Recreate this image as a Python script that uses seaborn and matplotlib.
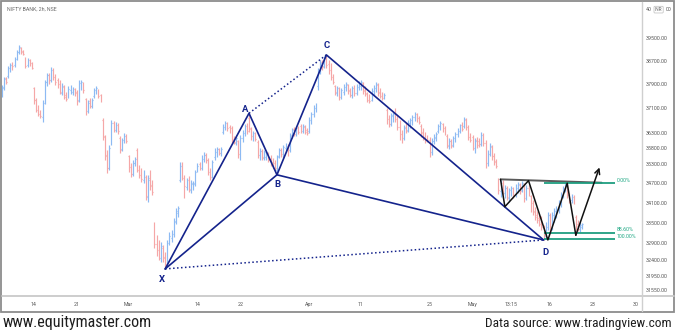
import numpy as np
import pandas as pd
import matplotlib
matplotlib.use("Agg")
import matplotlib.pyplot as plt
import seaborn as sns
from matplotlib import font_manager
from matplotlib.ticker import FixedLocator, NullLocator, FixedFormatter
from matplotlib.patches import Rectangle

# ---------------- data ----------------
trading_days = [
    "2022-02-08", "2022-02-09", "2022-02-10", "2022-02-11", "2022-02-14", "2022-02-15", "2022-02-16",
    "2022-02-17", "2022-02-18", "2022-02-21", "2022-02-22", "2022-02-23", "2022-02-24", "2022-02-25",
    "2022-02-28", "2022-03-02", "2022-03-03", "2022-03-04", "2022-03-07", "2022-03-08", "2022-03-09",
    "2022-03-10", "2022-03-11", "2022-03-14", "2022-03-15", "2022-03-16", "2022-03-17", "2022-03-21",
    "2022-03-22", "2022-03-23", "2022-03-24", "2022-03-25", "2022-03-28", "2022-03-29", "2022-03-30",
    "2022-03-31", "2022-04-01", "2022-04-04", "2022-04-05", "2022-04-06", "2022-04-07", "2022-04-08",
    "2022-04-11", "2022-04-12", "2022-04-13", "2022-04-18", "2022-04-19", "2022-04-20", "2022-04-21",
    "2022-04-22", "2022-04-25", "2022-04-26", "2022-04-27", "2022-04-28", "2022-04-29", "2022-05-02",
    "2022-05-04", "2022-05-05", "2022-05-06", "2022-05-09", "2022-05-10", "2022-05-11", "2022-05-12",
    "2022-05-13", "2022-05-16", "2022-05-17", "2022-05-18", "2022-05-19",
]
future_days = ["2022-05-20", "2022-05-23", "2022-05-24", "2022-05-25", "2022-05-26", "2022-05-27",
               "2022-05-30", "2022-05-31"]
sessions = ["09:15", "11:15", "13:15", "15:15"]
first_bar = "2022-02-08 11:15"

opens = [
    37540, 37770, 38110,
    38180, 38410, 38590, 38550,  38760, 39000, 39140, 39040,  38790, 38550, 38720, 38620,
    37770, 37370, 37070, 36970,  36810, 37270, 37970, 38210,  38040, 38380, 38140, 38040,
    37910, 37600, 37800, 37540,  37470, 37700, 37640, 37740,  37640, 37370, 37870, 37940,
    37400, 37000, 37340, 37170,  37500, 37670, 37700, 37540,  36710, 36160, 35580, 35170,
    35970, 36610, 36380, 36550,  36130, 35770, 36060, 36190,  35550, 35200, 34990, 35330,
    35740, 35140, 35020, 34800,  34890, 34280, 34860, 34650,  33460, 32870, 32700, 32470,
    32760, 32490, 32290, 32900,  33050, 33170, 33520, 33790,  34800, 35270, 34860, 34580,
    34800, 34490, 34680, 34680,  35080, 35300, 35170, 35460,  35580, 35420, 35050, 34920,
    35520, 35680, 35770, 35650,  36320, 36480, 36610, 36480,  36450, 36090, 35970, 36030,
    35550, 36130, 36290, 36510,  36780, 36420, 36160, 36250,  36000, 35580, 35710, 35490,
    35520, 35610, 35460, 35360,  35330, 35110, 35550, 35740,  35580, 35810, 35870, 35740,
    36190, 36420, 36250, 36450,  36510, 36350, 36480, 36380,  36350, 36710, 36910, 37100,
    37840, 38310, 38660, 38520,  38790, 38590, 38380, 38140,  37840, 37600, 37740, 37470,
    37640, 37800, 37870, 37700,  37540, 37770, 37600, 37800,  37840, 37940, 37700, 37600,
    37500, 37370, 37670, 37770,  37870, 37640, 37570, 37440,  37040, 36740, 36580, 36840,
    36940, 36780, 36480, 36250,  36130, 36480, 36380, 36610,  36680, 36810, 36910, 36780,
    36510, 36320, 36190, 36160,  36060, 35680, 36030, 36130,  36350, 36510, 36580, 36450,
    36190, 35870, 36030, 35900,  36090, 36250, 36350, 36550,  36510, 36710, 36480, 36190,
    36160, 35810, 36060, 36030,  35930, 36220, 35970, 35330,  35610, 35840, 35550, 35390,
    34800, 34460, 34710, 34400,  34550, 34250, 34460, 34550,  34340, 34550, 34650, 34490,
    34680, 34280, 34550, 34310,  34090, 33850, 33730, 33640,  33610, 33340, 33110, 33370,
    33730, 33340, 33700, 33820,  33880, 34060, 34310, 34520,  34650, 34340, 34190, 34280,
    33670, 33460, 33310, 33370,
]
highs = [
    37870, 38140, 38140,
    38520, 38620, 38660, 38830,  39070, 39250, 39180, 39070,  38830, 38790, 38760, 38660,
    37800, 37440, 37200, 37040,  37370, 38040, 38280, 38280,  38480, 38450, 38240, 38110,
    38040, 37940, 37870, 37640,  37840, 37870, 37800, 37770,  37700, 38040, 38040, 37970,
    37440, 37370, 37440, 37440,  37770, 37840, 37740, 37570,  36780, 36220, 35740, 35900,
    36710, 36680, 36640, 36610,  36190, 36130, 36290, 36250,  35580, 35330, 35420, 35520,
    35810, 35270, 35170, 35110,  34960, 34960, 35110, 34800,  33520, 33140, 32990, 32930,
    32840, 32640, 32990, 33230,  33280, 33640, 33940, 34000,  35360, 35360, 34960, 34860,
    34920, 34800, 34770, 35110,  35330, 35360, 35580, 35680,  35650, 35490, 35170, 35420,
    35810, 35840, 35810, 35840,  36580, 36680, 36640, 36550,  36510, 36190, 36220, 36060,
    36220, 36380, 36580, 36610,  36910, 36480, 36350, 36320,  36060, 35810, 35770, 35740,
    35710, 35680, 35580, 35490,  35420, 35580, 35810, 35810,  35900, 35970, 35930, 36290,
    36450, 36480, 36510, 36510,  36580, 36580, 36550, 36450,  36810, 36970, 37200, 37270,
    38450, 38720, 38720, 38860,  38900, 38720, 38620, 38240,  37870, 37840, 37800, 37770,
    37910, 37970, 37910, 37770,  37840, 37870, 37910, 38010,  38040, 37970, 37840, 37640,
    37570, 37770, 37870, 37970,  37940, 37770, 37640, 37600,  37100, 36870, 36940, 36970,
    37100, 36870, 36710, 36380,  36550, 36640, 36710, 36780,  36870, 36970, 36940, 36840,
    36580, 36450, 36320, 36220,  36160, 36130, 36250, 36320,  36580, 36680, 36610, 36510,
    36250, 36130, 36090, 36190,  36320, 36450, 36580, 36640,  36810, 36780, 36550, 36290,
    36220, 36130, 36160, 36130,  36320, 36290, 36060, 35740,  35970, 35900, 35650, 35460,
    34860, 34800, 34800, 34650,  34610, 34550, 34610, 34580,  34680, 34740, 34710, 34770,
    34710, 34650, 34650, 34340,  34190, 33970, 33850, 33760,  33700, 33430, 33520, 33820,
    33790, 33820, 33940, 34000,  34190, 34430, 34610, 34740,  34680, 34400, 34370, 34340,
    33730, 33580, 33520, 33490,
]
lows = [
    37470, 37700, 37910,
    38110, 38310, 38380, 38480,  38720, 38930, 38930, 38900,  38450, 38480, 38520, 38410,
    37240, 36970, 36840, 36780,  36640, 37240, 37840, 37910,  37970, 38040, 37870, 37770,
    37570, 37540, 37400, 37340,  37440, 37570, 37540, 37500,  37200, 37300, 37700, 37600,
    36870, 36940, 37100, 37100,  37440, 37570, 37440, 37300,  36060, 35420, 35020, 35110,
    35900, 36320, 36320, 36250,  35650, 35710, 35970, 35970,  35050, 34890, 34920, 35240,
    35050, 34860, 34740, 34710,  34190, 34130, 34490, 34340,  32760, 32520, 32410, 32350,
    32350, 32150, 32230, 32840,  32930, 33080, 33460, 33670,  34740, 34800, 34250, 34490,
    34430, 34400, 34490, 34610,  35050, 35110, 35110, 35360,  35330, 34960, 34800, 34860,
    35420, 35520, 35580, 35550,  36250, 36380, 36350, 36290,  35970, 35930, 35900, 35490,
    35420, 36000, 36190, 36250,  36320, 36060, 36030, 36030,  35490, 35420, 35420, 35420,
    35420, 35360, 35240, 35170,  35110, 34990, 35490, 35520,  35490, 35680, 35550, 35680,
    36130, 36190, 36190, 36250,  36290, 36290, 36250, 36220,  36290, 36580, 36810, 36970,
    37700, 38240, 38380, 38450,  38450, 38240, 38040, 37910,  37540, 37500, 37370, 37400,
    37540, 37670, 37570, 37470,  37440, 37500, 37540, 37700,  37700, 37570, 37500, 37300,
    37270, 37340, 37540, 37640,  37500, 37440, 37370, 37400,  36580, 36480, 36510, 36640,
    36640, 36380, 36060, 35970,  36060, 36290, 36320, 36450,  36550, 36680, 36640, 36580,
    36160, 36060, 35970, 36000,  35520, 35580, 35930, 36030,  36290, 36380, 36320, 36220,
    35810, 35770, 35810, 35840,  36000, 36160, 36290, 36350,  36450, 36380, 36060, 36000,
    35740, 35650, 35810, 35840,  35870, 35870, 35170, 35240,  35550, 35420, 35270, 35170,
    34370, 34280, 34340, 34250,  34190, 34130, 34310, 34250,  34280, 34400, 34370, 34430,
    34130, 34190, 34310, 33820,  33730, 33580, 33490, 33400,  33280, 32990, 33050, 33280,
    33200, 33280, 33520, 33640,  33790, 33970, 34250, 34430,  34250, 34090, 34090, 34060,
    33280, 33250, 33230, 33310,
]
closes = [
    37800, 38070, 37970,
    38450, 38550, 38520, 38760,  39000, 39180, 39000, 38930,  38520, 38720, 38590, 38450,
    37370, 37040, 36910, 36840,  37270, 37970, 38210, 38040,  38380, 38140, 37970, 37840,
    37640, 37840, 37470, 37400,  37740, 37800, 37740, 37600,  37340, 37940, 37970, 37700,
    36970, 37270, 37170, 37370,  37700, 37770, 37500, 37340,  36190, 35550, 35170, 35810,
    36610, 36420, 36550, 36350,  35740, 36060, 36190, 36030,  35170, 34990, 35330, 35460,
    35110, 34960, 34830, 35020,  34310, 34800, 34610, 34430,  32870, 32640, 32490, 32810,
    32470, 32290, 32900, 33110,  33200, 33550, 33850, 33940,  35240, 34860, 34610, 34770,
    34520, 34710, 34710, 35050,  35240, 35170, 35490, 35580,  35420, 35050, 34890, 35360,
    35710, 35770, 35650, 35770,  36480, 36610, 36450, 36350,  36060, 36000, 36130, 35610,
    36130, 36320, 36480, 36350,  36450, 36190, 36290, 36090,  35610, 35710, 35520, 35680,
    35650, 35420, 35330, 35240,  35170, 35520, 35740, 35610,  35840, 35900, 35680, 36220,
    36380, 36250, 36450, 36320,  36350, 36510, 36320, 36290,  36710, 36910, 37140, 37240,
    38310, 38620, 38480, 38790,  38550, 38350, 38140, 37970,  37640, 37770, 37470, 37700,
    37840, 37910, 37670, 37540,  37770, 37600, 37840, 37940,  37970, 37670, 37570, 37370,
    37340, 37700, 37800, 37910,  37600, 37500, 37440, 37540,  36680, 36580, 36870, 36910,
    36740, 36480, 36190, 36060,  36450, 36350, 36610, 36710,  36810, 36910, 36740, 36640,
    36290, 36160, 36060, 36060,  35680, 36030, 36160, 36250,  36510, 36610, 36420, 36290,
    35900, 36030, 35870, 36130,  36250, 36380, 36510, 36420,  36740, 36480, 36160, 36060,
    35840, 36030, 35900, 35930,  36220, 35970, 35330, 35650,  35870, 35550, 35360, 35240,
    34490, 34710, 34430, 34550,  34280, 34490, 34550, 34340,  34580, 34680, 34460, 34710,
    34250, 34550, 34400, 33940,  33820, 33670, 33580, 33460,  33370, 33110, 33400, 33730,
    33340, 33730, 33850, 33910,  34090, 34340, 34550, 34680,  34340, 34190, 34310, 34130,
    33400, 33310, 33430, 33460,
]

# harmonic (XABCD) pattern
pattern_labels = ["X", "A", "B", "C", "D"]
pattern_times = ["2022-03-08 11:15", "2022-03-23 09:15", "2022-03-28 11:15",
                 "2022-04-05 09:15", "2022-05-13 11:15"]
pattern_prices = [32150, 36930, 34960, 38900, 32990]

# W (double bottom) sketch with breakout arrow
w_times = ["2022-05-06 11:15", "2022-05-06 15:15", "2022-05-11 13:15", "2022-05-13 15:15",
           "2022-05-18 09:15", "2022-05-19 09:15", "2022-05-23 15:15"]
w_prices = [34820, 33980, 34780, 32990, 34700, 33130, 35190]
neck_times = ["2022-05-06 11:15", "2022-05-24 09:15"]
neck_prices = [34820, 34715]

# Fibonacci retracement
fib_top = 34700
fib_bottom = 33010
fib_levels = [0.0, 0.886, 1.0]
fib_labels = ["0.00%", "88.60%", "100.00%"]
fib_start = "2022-05-13 11:15"
fib_end = "2022-05-25 13:15"

price_ticks = [40500, 39500, 38700, 37900, 37100, 36300, 35800, 35300, 34700,
               34100, 33500, 32900, 32400, 31950, 31550]
currency = "INR"
date_tick_times = ["2022-02-14 09:15", "2022-02-21 09:15", "2022-03-02 09:15", "2022-03-14 09:15",
                   "2022-03-22 09:15", "2022-04-01 09:15", "2022-04-11 09:15", "2022-04-25 09:15",
                   "2022-05-02 09:15", "2022-05-09 13:15", "2022-05-16 09:15", "2022-05-23 09:15",
                   "2022-05-30 09:15"]
date_tick_labels = ["14", "21", "Mar", "14", "22", "Apr", "11", "25", "May", "13:15", "16", "23", "30"]

# ---------------- helpers ----------------
calendar = trading_days + future_days


def tx(stamp):
    d, t = stamp.split()
    return calendar.index(d) + sessions.index(t) / 4.0


bar_stamps = [f"{d} {s}" for d in trading_days for s in sessions]
bar_stamps = bar_stamps[bar_stamps.index(first_bar):][:len(opens)]
bars = pd.DataFrame({"x": [tx(s) for s in bar_stamps], "open": opens, "high": highs,
                     "low": lows, "close": closes})
bars["up"] = bars["close"] >= bars["open"]

# ---------------- style ----------------
sns.set_theme(style="white")
avail = {f.name for f in font_manager.fontManager.ttflist}
small_font = "Roboto" if "Roboto" in avail else "DejaVu Sans"
narrow_font = next((f for f in ["Liberation Sans Narrow", "Roboto Condensed", "Roboto"] if f in avail),
                   "DejaVu Sans")
plt.rcParams["font.family"] = [small_font, "DejaVu Sans"]

W, H = 675, 334
fig = plt.figure(figsize=(W / 100, H / 100), dpi=100)
fig.patch.set_facecolor("white")

# pixel-space canvas for the screenshot frame and footer
ax0 = fig.add_axes([0, 0, 1, 1], zorder=0)
ax0.set_xlim(0, W)
ax0.set_ylim(H, 0)
ax0.axis("off")

L, R, T, B = 2, 641, 3, 295
ax = fig.add_axes([L / W, 1 - B / H, (R - L) / W, (B - T) / H], zorder=1)
ax.patch.set_alpha(0)

up_col, dn_col = "#8dbaf3", "#f5a7a7"
cols = np.where(bars["up"], up_col, dn_col)
tick = 0.09
ax.vlines(bars["x"], bars["low"], bars["high"], colors=cols, lw=0.85, zorder=2)
ax.hlines(bars["open"], bars["x"] - tick, bars["x"], colors=cols, lw=0.85, zorder=2)
ax.hlines(bars["close"], bars["x"], bars["x"] + tick, colors=cols, lw=0.85, zorder=2)

navy = "#14238c"
pts = pd.DataFrame({"label": pattern_labels, "x": [tx(t) for t in pattern_times], "price": pattern_prices})
P = pts.set_index("label")


def seg(names, **kw):
    sub = P.loc[names].reset_index()
    sns.lineplot(data=sub, x="x", y="price", sort=False, estimator=None, ax=ax, legend=False, **kw)


seg(["X", "A", "B", "C", "D"], color=navy, lw=1.2, zorder=4)
seg(["X", "B", "D"], color=navy, lw=1.2, zorder=4)
seg(["X", "D"], color=navy, lw=1.1, linestyle=(0, (1, 1.6)), zorder=4)
seg(["A", "C"], color=navy, lw=1.1, linestyle=(0, (1, 1.6)), zorder=4)

label_offsets = {"X": (-2.5, -7.5), "A": (-3, 2.5), "B": (0, -7), "C": (0, 6.5), "D": (1, -9)}
for lab, row in P.iterrows():
    ax.annotate(lab, (row["x"], row["price"]), xytext=label_offsets[lab], textcoords="offset points",
                ha="center", va="center", fontsize=6.8, color=navy, fontweight="bold", zorder=6)

# neckline and W path
neck = pd.DataFrame({"x": [tx(t) for t in neck_times], "price": neck_prices})
sns.lineplot(data=neck, x="x", y="price", sort=False, estimator=None, ax=ax, color="#5a5a5a",
             lw=1.4, zorder=5, legend=False)
wdf = pd.DataFrame({"x": [tx(t) for t in w_times], "price": w_prices})
sns.lineplot(data=wdf.iloc[:-1], x="x", y="price", sort=False, estimator=None, ax=ax, color="#111111",
             lw=1.1, zorder=6, legend=False)
ax.annotate("", xy=(wdf["x"].iloc[-1], wdf["price"].iloc[-1]),
            xytext=(wdf["x"].iloc[-2], wdf["price"].iloc[-2]),
            arrowprops=dict(arrowstyle="->", color="#111111", lw=1.1, mutation_scale=9,
                            shrinkA=0, shrinkB=0), zorder=6)

# fib levels
teal = "#1f9e80"
x0f, x1f = tx(fib_start), tx(fib_end)
for lvl, lab in zip(fib_levels, fib_labels):
    pr = fib_top - lvl * (fib_top - fib_bottom)
    ax.hlines(pr, x0f, x1f, colors=teal, lw=1.3, zorder=5)
    ax.annotate(lab, (x1f, pr), xytext=(1.5, 0.2), textcoords="offset points", ha="left", va="bottom",
                fontsize=3.8, color="#20a884", zorder=6)

# axes scales
ax.set_yscale("log")
ax.set_ylim(31412, 40740)
ax.set_xlim(tx("2022-02-14 09:15") - 3.72, tx("2022-02-14 09:15") + 70.58)
ax.yaxis.tick_right()
ax.yaxis.set_major_locator(FixedLocator(price_ticks))
# the top label is split around the currency badge, as on the screen
tick_texts = [f"{p:.2f}" for p in price_ticks]
top_text = tick_texts[0]
tick_texts[0] = ""
ax.yaxis.set_major_formatter(FixedFormatter(tick_texts))
ax.yaxis.set_minor_locator(NullLocator())
ax.set_xticks([tx(t) for t in date_tick_times])
ax.set_xticklabels(date_tick_labels)
ax.tick_params(axis="y", length=0, pad=3.2, labelsize=3.8, labelcolor="#555555")
ax.tick_params(axis="x", length=0, pad=5.0, labelsize=3.8, labelcolor="#555555")
ax.set_xlabel("")
ax.set_ylabel("")
for s in ax.spines.values():
    s.set_visible(False)

# top price label partly hidden behind the currency badge
ytop = ax.transData.transform((0, price_ticks[0]))[1]
ytop_px = H - ytop
ax0.text(651.5, ytop_px, top_text[:2], fontsize=3.8, color="#555555", ha="right", va="center")
ax0.text(665.8, ytop_px, top_text[-2:], fontsize=3.8, color="#555555", ha="left", va="center")
ax0.text(658.6, ytop_px, currency, fontsize=3.4, color="#666666", va="center", ha="center", zorder=5,
         bbox=dict(boxstyle="round,pad=0.18", fc="white", ec="#bdbdbd", lw=0.5))

# screenshot frame
ax0.add_patch(Rectangle((0.8, 0.8), W - 2.2, 311, fill=False, ec="#8c8c8c", lw=1.3))
ax0.plot([1.5, W - 1.5], [296, 296], color="#c9c9c9", lw=1.3)
ax0.plot([641.5, 641.5], [1.5, 311], color="#cfcfcf", lw=1.0)
ax0.text(7, 9.5, "NIFTY BANK, 2h, NSE", fontsize=3.8, color="#6a6a6a", va="center", ha="left")

# footer
renderer = fig.canvas.get_renderer()


def fit_text(x, y, s, width_px, ha):
    t = ax0.text(x, y, s, fontsize=10, family=[narrow_font, "DejaVu Sans"], color="#1e1e1e",
                 ha=ha, va="center")
    w = t.get_window_extent(renderer=renderer).width
    t.set_fontsize(10 * width_px / w)
    return t


fit_text(3, 323, "www.equitymaster.com", 149, "left")
fit_text(672, 323, "Data source: www.tradingview.com", 185, "right")

fig.savefig("out.png", dpi=100, facecolor="white")
